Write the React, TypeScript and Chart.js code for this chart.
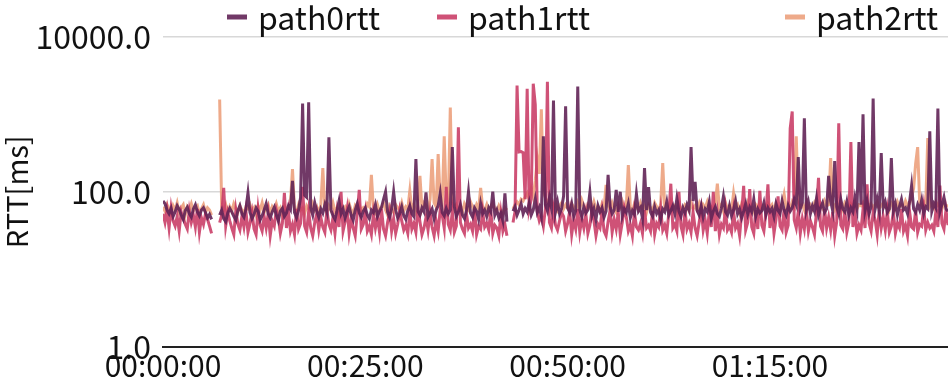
import React, { useEffect, useRef } from 'react';
import { Chart, registerables } from 'chart.js';

Chart.register(...registerables);

// sampling interval of the series (seconds)
const SAMPLE_SECONDS = 15;

const seriesNames = ['path0rtt', 'path1rtt', 'path2rtt'];

// RTT in ms, one value per sample; null = no sample
const path0rtt: (number | null)[] = [
  76, 70, 58, 52, 61, 48, 55, 66, 59, 50, 44, 57, 63, 52, 47, 60, 68, 55, 49, 58,
  62, 54, 46, 51, 44, null, null, null, 50, 58, 45, 41, 53, 61, 55, 48, 43, 57, 66, 52,
  47, 60, 97, 54, 45, 51, 62, 56, 43, 49, 58, 70, 52, 46, 55, 63, 50, 42, 56, 61,
  48, 53, 66, 59, 138, 54, 46, 58, 84, 1380, 90, 85, 1430, 62, 50, 72, 56, 47, 60, 53,
  68, 55, 507, 58, 49, 44, 57, 76, 52, 60, 46, 55, 64, 50, 43, 58, 70, 53, 47, 56,
  62, 50, 45, 58, 54, 68, 48, 56, 63, 80, 100, 55, 47, 60, 100, 58, 46, 52, 64, 49,
  44, 57, 66, 52, 48, 265, 56, 50, 62, 55, 98, 47, 53, 60, 45, 58, 66, 95, 54, 49,
  61, 52, 58, 378, 64, 48, 55, 68, 50, 45, 57, 100, 53, 47, 62, 56, 44, 70, 52, 58,
  48, 62, 55, 100, 50, 58, 46, 53, 42, 95, 41, null, null, 56, 64, 50, 58, 70, 52, 61,
  55, 72, 50, 58, 80, 54, 63, 48, 522, 68, 57, 84, 62, 1510, 55, 74, 52, 60, 88, 1270,
  62, 54, 70, 48, 57, 2290, 58, 47, 64, 53, 58, 98, 49, 60, 44, 66, 55, 62, 47, 56,
  165, 64, 52, 58, 106, 55, 100, 48, 60, 54, 70, 46, 57, 51, 94, 56, 62, 45, 203, 58,
  115, 54, 48, 64, 52, 58, 44, 60, 55, 74, 50, 57, 66, 52, 82, 56, 48, 62, 53, 68,
  58, 378, 76, 134, 57, 50, 66, 47, 60, 55, 74, 45, 56, 64, 52, 48, 61, 87, 55, 50,
  66, 49, 58, 76, 52, 60, 46, 56, 70, 51, 63, 55, 80, 48, 60, 53, 57, 72, 50, 62,
  55, 61, 48, 70, 57, 52, 76, 58, 50, 66, 56, 62, 80, 68, 281, 60, 72, 890, 58, 74,
  52, 66, 56, 82, 50, 62, 72, 54, 60, 160, 76, 57, 250, 64, 52, 80, 60, 55, 74, 50,
  62, 55, 84, 60, 438, 68, 1000, 57, 76, 52, 64, 1600, 60, 80, 56, 316, 62, 74, 54, 60,
  273, 56, 70, 50, 64, 80, 58, 62, 52, 74, 120, 60, 54, 68, 58, 78, 52, 64, 60, 606,
  56, 70, 62, 1190, 55, 68, 85, 60, 56,
];

const path1rtt: (number | null)[] = [
  52, 40, 58, 34, 62, 42, 36, 48, 31, 55, 45, 38, 33, 57, 40, 50, 35, 60, 30, 46,
  38, 52, 44, 36, 29, null, null, null, 40, 50, 112, 36, 54, 42, 34, 28, 58, 38, 32, 48,
  35, 56, 30, 39, 54, 33, 28, 60, 37, 31, 48, 34, 52, 27, 42, 36, 58, 46, 29, 39,
  97, 34, 55, 31, 38, 28, 60, 33, 39, 116, 36, 30, 56, 34, 27, 40, 52, 32, 47, 35,
  30, 58, 38, 32, 46, 29, 54, 35, 100, 31, 41, 60, 29, 44, 34, 27, 52, 106, 33, 38,
  56, 31, 36, 28, 52, 34, 47, 30, 60, 33, 27, 40, 55, 31, 45, 29, 38, 58, 42, 32,
  37, 29, 56, 33, 39, 30, 62, 41, 28, 34, 47, 32, 54, 35, 27, 42, 31, 58, 50, 34,
  116, 38, 32, 56, 30, 36, 681, 40, 33, 29, 52, 34, 38, 31, 60, 28, 36, 33, 55, 35,
  39, 32, 58, 29, 37, 34, 27, 52, 31, 38, 27, null, null, 40, 55, 2360, 326, 330, 320, 80,
  2150, 60, 80, 2490, 1340, 55, 42, 49, 36, 60, 2640, 40, 34, 58, 37, 32, 42, 54, 48, 31,
  39, 56, 28, 43, 33, 60, 30, 45, 34, 52, 29, 37, 58, 42, 27, 38, 34, 56, 31, 27,
  41, 58, 30, 44, 33, 54, 28, 40, 62, 47, 31, 37, 27, 55, 35, 32, 39, 29, 58, 34,
  37, 31, 56, 28, 39, 35, 60, 32, 37, 29, 52, 127, 34, 38, 31, 100, 36, 28, 58, 33,
  39, 30, 55, 34, 27, 40, 60, 32, 43, 29, 56, 35, 100, 31, 52, 28, 38, 34, 60, 32,
  36, 30, 56, 34, 39, 27, 52, 119, 32, 40, 108, 35, 29, 58, 33, 103, 37, 31, 54, 125,
  34, 58, 29, 44, 87, 36, 32, 60, 30, 37, 660, 1090, 43, 34, 56, 29, 45, 33, 58, 31,
  42, 35, 28, 56, 151, 36, 31, 60, 34, 47, 32, 55, 27, 41, 767, 37, 33, 58, 30, 40,
  438, 35, 56, 29, 37, 32, 60, 34, 125, 39, 31, 54, 43, 28, 58, 34, 47, 32, 56, 30,
  36, 55, 29, 39, 34, 60, 31, 37, 27, 56, 35, 33, 58, 30, 38, 36, 62, 32, 40, 34,
  37, 31, 56, 35, 120, 39, 33, 58, 37,
];

const path2rtt: (number | null)[] = [
  64, 56, 68, 60, 52, 66, 58, 72, 54, 62, 68, 50, 64, 58, 70, 56, 62, 66, 52, 60,
  68, 54, 62, 58, 50, null, null, null, 1560, 63, 58, 68, 52, 64, 56, 70, 60, 54, 66, 58,
  52, 64, 60, 68, 56, 62, 50, 66, 58, 72, 54, 60, 68, 52, 64, 58, 70, 56, 62, 50,
  66, 58, 64, 72, 197, 60, 54, 68, 58, 62, 52, 66, 60, 56, 70, 58, 64, 52, 68, 203,
  60, 54, 66, 58, 72, 56, 62, 50, 68, 60, 64, 54, 70, 58, 52, 66, 60, 68, 56, 62,
  58, 70, 64, 165, 60, 54, 68, 56, 62, 72, 58, 50, 66, 60, 54, 68, 62, 58, 72, 56,
  64, 60, 103, 58, 68, 54, 62, 160, 60, 72, 66, 58, 80, 265, 72, 64, 307, 86, 70, 522,
  78, 66, 1230, 74, 60, 68, 58, 66, 54, 70, 62, 58, 74, 64, 56, 68, 60, 112, 62, 58,
  68, 54, 64, 72, 60, 56, 66, 58, 52, 62, 58, null, null, 60, 68, 74, 68, 80, 76, 86,
  96, 80, 110, 88, 140, 265, 170, 1160, 100, 84, 74, 66, 76, 62, 70, 58, 66, 72, 60, 68,
  62, 56, 70, 64, 58, 72, 60, 78, 66, 54, 68, 62, 58, 74, 60, 64, 56, 70, 62, 123,
  66, 58, 72, 60, 54, 68, 62, 74, 58, 66, 222, 62, 56, 70, 64, 58, 72, 60, 66, 54,
  68, 62, 58, 72, 64, 56, 70, 235, 62, 68, 58, 74, 60, 66, 54, 70, 62, 58, 68, 64,
  56, 72, 60, 66, 58, 70, 54, 68, 62, 74, 60, 64, 58, 70, 127, 62, 68, 56, 72, 60,
  66, 58, 95, 62, 68, 54, 70, 64, 58, 72, 60, 66, 56, 68, 62, 74, 58, 66, 60, 70,
  62, 68, 56, 72, 64, 58, 70, 93, 62, 68, 60, 74, 66, 522, 72, 64, 68, 58, 74, 62,
  68, 60, 72, 64, 58, 70, 62, 76, 66, 68, 273, 72, 60, 74, 64, 68, 58, 72, 66, 62,
  70, 64, 74, 60, 68, 66, 72, 58, 76, 64, 70, 62, 68, 74, 60, 66, 72, 64, 68, 58,
  72, 66, 60, 74, 64, 68, 62, 76, 66, 70, 86, 110, 230, 378, 72, 66, 74, 68, 494, 64,
  70, 62, 74, 66, 68, 60, 72, 64, 68,
];

const timeSeconds = path0rtt.map((_, i) => i * SAMPLE_SECONDS);

const xTickSeconds = [0, 1500, 3000, 4500];
const yTickValues = [1, 100, 10000];

const seriesColors = [
  'rgba(98, 36, 86, 0.9)',
  'rgba(200, 58, 100, 0.88)',
  'rgba(236, 158, 122, 0.88)',
];

const FONT = '"Noto Sans CJK JP", "Noto Sans", sans-serif';

const pad2 = (n: number) => String(n).padStart(2, '0');
const fmtTime = (s: number) => {
  const h = Math.floor(s / 3600);
  const m = Math.floor((s % 3600) / 60);
  const sec = Math.floor(s % 60);
  return `${pad2(h)}:${pad2(m)}:${pad2(sec)}`;
};

const legendItemX = [227, 437, 785];

const fixedLegend = {
  id: 'fixedLegend',
  afterDraw(chart: any) {
    const ctx = chart.ctx as CanvasRenderingContext2D;
    ctx.save();
    ctx.font = `32px ${FONT}`;
    ctx.textBaseline = 'middle';
    ctx.textAlign = 'left';
    chart.data.datasets.forEach((ds: any, i: number) => {
      const x = legendItemX[i];
      const y = 17;
      ctx.strokeStyle = ds.borderColor;
      ctx.lineWidth = 5;
      ctx.beginPath();
      ctx.moveTo(x, y);
      ctx.lineTo(x + 20, y);
      ctx.stroke();
      ctx.fillStyle = '#111';
      ctx.fillText(ds.label, x + 31, y + 1);
    });
    ctx.restore();
  },
};

export default function App() {
  const ref = useRef<HTMLCanvasElement>(null);
  useEffect(() => {
    document.body.style.margin = '0';
    const series = [path0rtt, path1rtt, path2rtt];
    const chart = new Chart(ref.current as HTMLCanvasElement, {
      type: 'line',
      data: {
        labels: timeSeconds,
        datasets: series.map((d, i) => ({
          label: seriesNames[i],
          data: d,
          borderColor: seriesColors[i],
          backgroundColor: seriesColors[i],
          borderWidth: 3,
          pointRadius: 0,
          tension: 0,
          spanGaps: false,
        })),
      },
      options: {
        animation: false,
        responsive: true,
        maintainAspectRatio: false,
        layout: { padding: { top: 37, right: 0, bottom: 0, left: 0 } },
        plugins: {
          legend: { display: false },
          tooltip: { enabled: false },
        },
        scales: {
          x: {
            type: 'linear',
            min: 0,
            max: timeSeconds[timeSeconds.length - 1],
            afterBuildTicks: (scale: any) => {
              scale.ticks = xTickSeconds.map((v) => ({ value: v }));
            },
            ticks: {
              color: '#111',
              font: { family: FONT, size: 30, lineHeight: 1.05 },
              padding: 3,
              maxRotation: 0,
              autoSkip: false,
              callback: (v: any) => fmtTime(Number(v)),
            },
            grid: { display: false, drawTicks: false },
            border: { display: true, color: '#222', width: 2 },
          },
          y: {
            type: 'logarithmic',
            min: 1,
            max: 10000,
            afterBuildTicks: (scale: any) => {
              scale.ticks = yTickValues.map((v) => ({ value: v }));
            },
            afterFit: (scale: any) => {
              scale.width = 163;
            },
            ticks: {
              color: '#111',
              font: { family: FONT, size: 32 },
              padding: 12,
              autoSkip: false,
              callback: (v: any) => Number(v).toFixed(1),
            },
            grid: {
              drawTicks: false,
              color: (c: any) => (c.tick && c.tick.value === 1 ? 'rgba(0,0,0,0)' : '#d8d8d8'),
              lineWidth: 1.5,
            },
            border: { display: false },
            title: {
              display: true,
              text: 'RTT[ms]',
              color: '#111',
              font: { family: FONT, size: 29 },
              padding: { top: 0, bottom: 0 },
            },
          },
        },
      },
      plugins: [fixedLegend],
    });
    return () => chart.destroy();
  }, []);
  return (
    <div style={{ width: 948, height: 384, position: 'relative' }}>
      <canvas ref={ref} />
    </div>
  );
}
